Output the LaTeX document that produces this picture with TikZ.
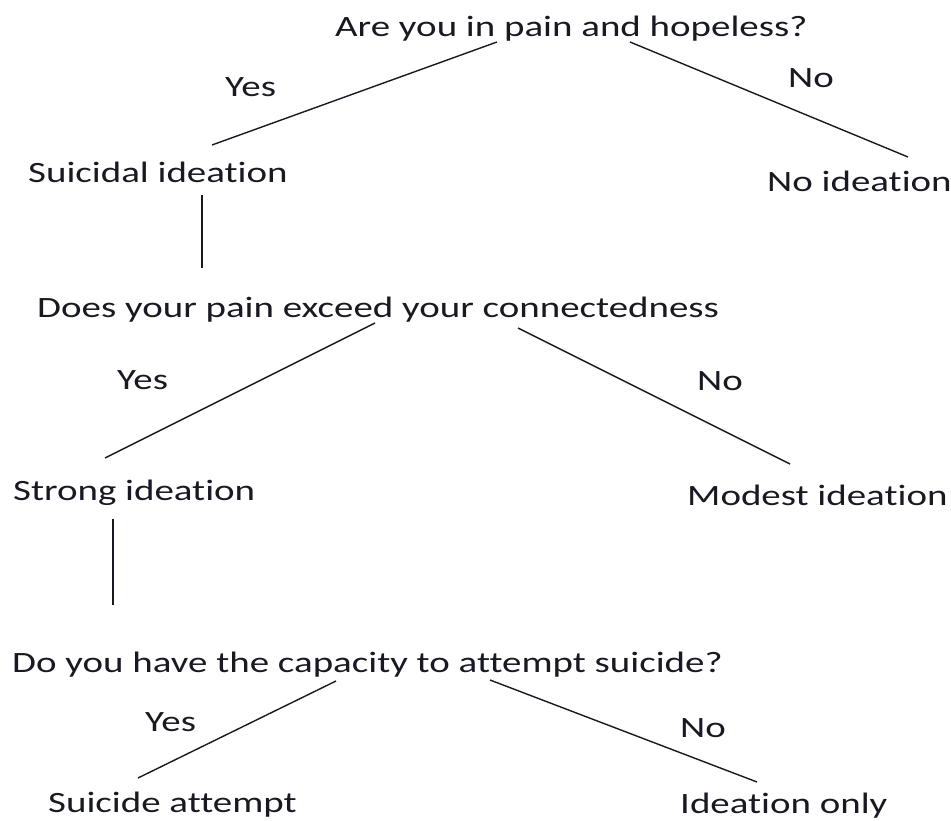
\documentclass[tikz,border=0pt]{standalone}
\usepackage{fontspec}
\setmainfont[FakeStretch=1.32,Ligatures={NoCommon}]{Carlito}
\definecolor{ink}{RGB}{25,25,35}

\begin{document}
\begin{tikzpicture}[x=1pt,y=-1pt]
        \tikzstyle{every node}+=[inner sep=0pt,anchor=base west,text=ink,font=\fontsize{29.5}{35}\selectfont]
        \tikzstyle{branch}=[draw=ink,line width=1.4pt]
        \useasboundingbox (0,0) rectangle (951,821);
        \node (q1) at (335,37) {Are you in pain and hopeless?};
        \node (y1) at (225,97) {Yes};
        \node (m1) at (788,88) {No};
        \node (s1) at (28,183) {Suicidal ideation};
        \node (n1) at (767,192) {No ideation};
        \node (q2) at (37,317) {Does your pain exceed your connectedness};
        \node (y2) at (117,389) {Yes};
        \node (m2) at (697,390) {No};
        \node (st) at (13,500) {Strong ideation};
        \node (mo) at (687,505) {Modest ideation};
        \node (q3) at (12,672) {Do you have the capacity to attempt suicide?};
        \node (y3) at (145,731) {Yes};
        \node (m3) at (680,737) {No};
        \node (sa) at (48,812) {Suicide attempt};
        \node (io) at (680,813) {Ideation only};
        \draw [branch] ([shift={(162,5)}]q1.base west) -- ([shift={(184,-38)}]s1.base west);
        \draw [branch] ([shift={(295,5)}]q1.base west) -- ([shift={(141,-35)}]n1.base west);
        \draw [branch] ([shift={(174,12)}]s1.base west) -- ([shift={(165,-49)}]q2.base west);
        \draw [branch] ([shift={(338,6)}]q2.base west) -- ([shift={(92,-42)}]st.base west);
        \draw [branch] ([shift={(481,11)}]q2.base west) -- ([shift={(103,-41)}]mo.base west);
        \draw [branch] ([shift={(100,19)}]st.base west) -- ([shift={(101,-67)}]q3.base west);
        \draw [branch] ([shift={(324,9)}]q3.base west) -- ([shift={(90,-34)}]sa.base west);
        \draw [branch] ([shift={(478,8)}]q3.base west) -- ([shift={(77,-31)}]io.base west);
\end{tikzpicture}
\end{document}
